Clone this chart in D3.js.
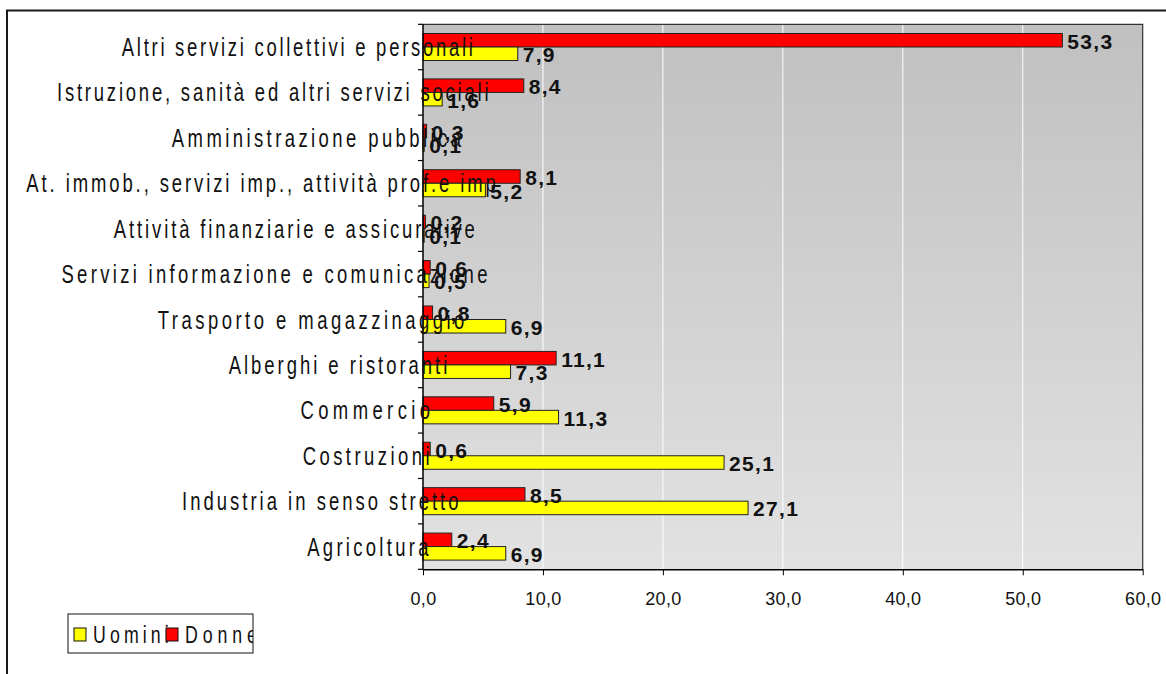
<!DOCTYPE html>
<html><head><meta charset="utf-8">
<script src="https://cdn.jsdelivr.net/npm/d3@7"></script>
<style>body{margin:0;background:#fff;} svg{display:block;}</style>
</head><body>
<script>
const categories = [
  "Altri servizi collettivi e personali",
  "Istruzione, sanità ed altri servizi sociali",
  "Amministrazione pubblica",
  "At. immob., servizi imp., attività prof.e imp",
  "Attività finanziarie e assicurative",
  "Servizi informazione e comunicazione",
  "Trasporto e magazzinaggio",
  "Alberghi e ristoranti",
  "Commercio",
  "Costruzioni",
  "Industria in senso stretto",
  "Agricoltura"
];
const uomini = [7.9, 1.6, 0.1, 5.2, 0.1, 0.5, 6.9, 7.3, 11.3, 25.1, 27.1, 6.9];
const donne  = [53.3, 8.4, 0.3, 8.1, 0.2, 0.6, 0.8, 11.1, 5.9, 0.6, 8.5, 2.4];
const seriesNames = ["Uomini", "Donne"];
const xTicks = [0, 10, 20, 30, 40, 50, 60];

const W = 1166, H = 674;
const plot = {left: 423, right: 1142.7, top: 24.3, bottom: 569.3};
const FONT = "'Liberation Sans', Arial, sans-serif";
const SX = 0.74;   // horizontal compression of glyphs
const STRETCH = 1.015;

const svg = d3.select("body").append("svg").attr("width", W).attr("height", H);
const defs = svg.append("defs");
const grad = defs.append("linearGradient").attr("id", "bg").attr("x1", 0).attr("y1", 0).attr("x2", 0).attr("y2", 1);
grad.append("stop").attr("offset", 0).attr("stop-color", "#c0c0c0");
grad.append("stop").attr("offset", 1).attr("stop-color", "#e2e2e2");

// draws narrow glyphs spread over their natural width; returns rendered width
function spacedText(g, str, size, x0, y0, anchorFn) {
  const t = g.append("text").text(str)
    .attr("font-family", FONT).attr("font-size", size).attr("fill", "#111");
  const wn = t.node().getComputedTextLength() * STRETCH;
  t.attr("textLength", wn / SX).attr("lengthAdjust", "spacing");
  const sx = anchorFn ? anchorFn(wn) : x0;
  t.attr("transform", `translate(${sx},${y0}) scale(${SX},1)`);
  return t;
}

// outer frame
svg.append("rect").attr("x", 7).attr("y", 10.5).attr("width", W + 20).attr("height", H + 20)
  .attr("fill", "none").attr("stroke", "#1a1a1a").attr("stroke-width", 2);

const x = d3.scaleLinear().domain([0, 60]).range([plot.left, plot.right]);
const y = d3.scaleBand().domain(categories).range([plot.top, plot.bottom]);
const bw = y.bandwidth();
const ys = d3.scaleBand().domain(["Donne", "Uomini"]).range([0.2025 * bw, 0.7975 * bw]);

// plot background
svg.append("rect").attr("x", plot.left).attr("y", plot.top)
  .attr("width", plot.right - plot.left).attr("height", plot.bottom - plot.top)
  .attr("fill", "url(#bg)");

// gridlines
svg.append("g").selectAll("line").data(xTicks.filter(t => t > 0 && t < 60)).join("line")
  .attr("x1", d => x(d)).attr("x2", d => x(d)).attr("y1", plot.top).attr("y2", plot.bottom)
  .attr("stroke", "#fff").attr("stroke-width", 1);

// plot border (top/right)
svg.append("path")
  .attr("d", `M${plot.left},${plot.top}H${plot.right}V${plot.bottom}`)
  .attr("fill", "none").attr("stroke", "#333").attr("stroke-width", 1.2);

// bars
const rows = categories.map((c, i) => ({c, u: uomini[i], d: donne[i]}));
const barData = [];
rows.forEach(r => {
  barData.push({c: r.c, s: "Donne", v: r.d, color: "#ff0000"});
  barData.push({c: r.c, s: "Uomini", v: r.u, color: "#ffff00"});
});
svg.append("g").selectAll("rect").data(barData).join("rect")
  .attr("x", x(0))
  .attr("y", d => y(d.c) + ys(d.s))
  .attr("width", d => x(d.v) - x(0))
  .attr("height", ys.bandwidth())
  .attr("fill", d => d.color)
  .attr("stroke", "#222").attr("stroke-width", 1);

// x axis
const fmt = v => d3.format(".1f")(v).replace(".", ",");
const xAxis = svg.append("g").attr("transform", `translate(0,${plot.bottom})`)
  .call(d3.axisBottom(x).tickValues(xTicks).tickSize(6).tickSizeOuter(0).tickPadding(17).tickFormat(fmt));
xAxis.select(".domain").attr("stroke", "#000").attr("stroke-width", 1.5);
xAxis.selectAll(".tick line").attr("stroke", "#000");
xAxis.selectAll("text").attr("font-family", FONT).attr("font-size", 18).attr("fill", "#111")
  .attr("letter-spacing", "0.3px");

// y axis (ticks at category boundaries)
const bounds = d3.range(categories.length + 1).map(i => plot.top + i * y.step());
const yAxis = svg.append("g");
yAxis.append("line").attr("x1", plot.left).attr("x2", plot.left).attr("y1", plot.top).attr("y2", plot.bottom)
  .attr("stroke", "#000").attr("stroke-width", 1.5);
yAxis.selectAll("line.t").data(bounds).join("line").attr("class", "t")
  .attr("x1", plot.left - 5).attr("x2", plot.left).attr("y1", d => d).attr("y2", d => d)
  .attr("stroke", "#000").attr("stroke-width", 1.2);

// category labels
const R = plot.left - 18, K = 1.24;
const catG = svg.append("g");
categories.forEach(c => {
  spacedText(catG, c, 25, 0, y(c) + bw / 2 + 9, wn => R - wn / K);
});

// value labels
svg.append("g").selectAll("text").data(barData).join("text")
  .attr("x", d => x(d.v) + 5)
  .attr("y", d => y(d.c) + ys(d.s) + ys.bandwidth() / 2 + 8.5)
  .attr("font-family", FONT).attr("font-size", 21).attr("font-weight", "bold")
  .attr("letter-spacing", "1.3px").attr("fill", "#111")
  .text(d => fmt(d.v));

// legend
const lg = {x: 68, y: 614, w: 185, h: 39};
defs.append("clipPath").attr("id", "lgclip").append("rect")
  .attr("x", lg.x).attr("y", lg.y).attr("width", lg.w).attr("height", lg.h);
const legend = svg.append("g");
legend.append("rect").attr("x", lg.x).attr("y", lg.y).attr("width", lg.w).attr("height", lg.h)
  .attr("fill", "#fff").attr("stroke", "#111").attr("stroke-width", 1);
const lgInner = legend.append("g").attr("clip-path", "url(#lgclip)");
const lgColors = {"Uomini": "#ffff00", "Donne": "#ff0000"};
const lgX = {"Uomini": 6, "Donne": 98};
seriesNames.forEach(s => {
  spacedText(lgInner, s, 24, lg.x + lgX[s] + 19, lg.y + 29);
});
seriesNames.forEach(s => {
  const gx = lg.x + lgX[s];
  lgInner.append("rect").attr("x", gx).attr("y", lg.y + 14).attr("width", 12).attr("height", 13)
    .attr("fill", lgColors[s]).attr("stroke", "#111").attr("stroke-width", 1);
});
</script>
</body></html>
